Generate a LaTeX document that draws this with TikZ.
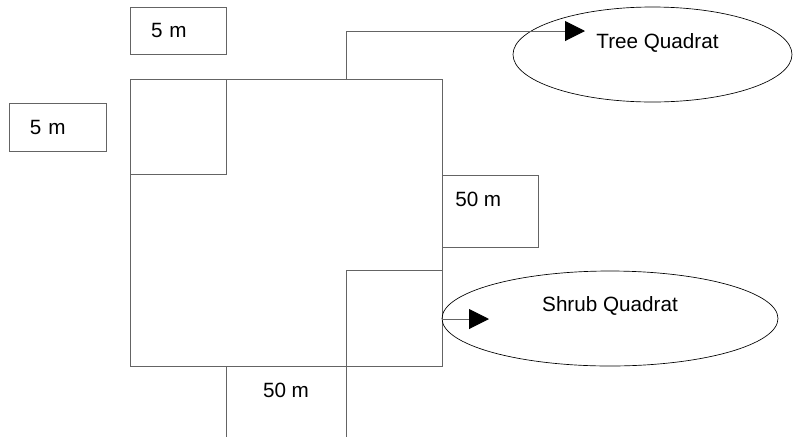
\documentclass[tikz,border=0pt]{standalone}
\usepackage{fontspec}
\setmainfont{Liberation Sans}
\usetikzlibrary{arrows.meta,positioning,shapes.geometric}
\definecolor{line_gray}{RGB}{100,100,100}

\begin{document}
\begin{tikzpicture}[x=0.75pt,y=-0.75pt,
      mybox/.style={
         rectangle,
         draw=line_gray,
         line width=0.75pt,
         outer sep=0pt,
         inner sep=0pt,
         anchor=north west},
      labelbox/.style={
         mybox,
         font=\fontsize{15.5}{18}\selectfont,
         align=left,
         inner xsep=15.75pt,
         text width=#1},
      myellipse/.style={
         ellipse,
         draw=black,
         line width=0.5pt,
         inner sep=0pt,
         outer sep=0pt},
      mytext/.style={
         font=\fontsize{15.5}{18}\selectfont,
         inner sep=0pt},
      myline/.style={
         draw=line_gray,
         line width=0.75pt},
      myarrow/.style={
         -{Triangle[length=15pt,width=15pt,color=black]},
         draw=line_gray,
         line width=0.75pt},
      xs/.style = {xshift=#1*0.75pt},
      ys/.style = {yshift=-#1*0.75pt},
      ]
      \useasboundingbox (0,0) rectangle (793,437);
      % plot
      \node[mybox,minimum width=234pt,minimum height=215.25pt] (plot) at (130,79) {};
      \node[mybox,minimum width=72pt,minimum height=71.25pt] (tree_q) at (plot.north west) {};
      \node[mybox,anchor=south east,minimum width=72pt,minimum height=72pt] (shrub_q) at (plot.south east) {};

      % side labels
      \node[labelbox=40.5pt,minimum height=35.25pt] (side_top) at (130,7) {5 m};
      \node[labelbox=41.25pt,minimum height=36pt] (side_left) at (9,103) {5 m};
      \node[mybox,minimum width=72pt,minimum height=54pt] (side_right) at ([ys=96]plot.north east) {};
      \node[mytext,anchor=west] (side_right_txt) at ([xs=13,ys=24]side_right.north west) {50 m};

      \coordinate (b_left) at (226,437);
      \coordinate (b_right) at (346,437);
      \draw[myline] (plot.south -| tree_q.east) -- (b_left);
      \draw[myline] (plot.south -| shrub_q.west) -- (b_right);
      \node[mytext] (side_bottom_txt) at (286,390) {50 m};

      % quadrat names
      \node[myellipse,minimum width=209.25pt,minimum height=71.25pt] (tree) at (652.5,54.5) {};
      \node[mytext] (tree_txt) at ([xs=5,ys=-11.5]tree.center) {Tree Quadrat};
      \node[myellipse,minimum width=252pt,minimum height=71.25pt] (shrub) at (610,318.5) {};
      \node[mytext] (shrub_txt) at ([ys=-12.5]shrub.center) {Shrub Quadrat};

      \coordinate (tree_tip) at (585,31);
      \coordinate (shrub_tip) at (489,319);
      \draw[myarrow] (plot.north -| shrub_q.west) |- (tree_tip);
      \draw[myarrow] (plot.east |- shrub_tip) -- (shrub_tip);
\end{tikzpicture}
\end{document}
